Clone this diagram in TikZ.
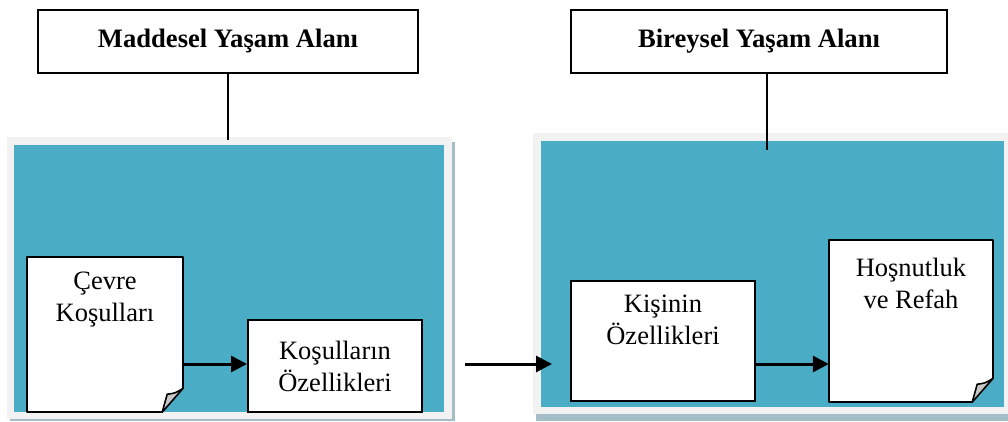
\documentclass[tikz,border=0pt]{standalone}
\usepackage{fontspec}
\setmainfont{Liberation Serif}
\usetikzlibrary{arrows.meta,calc}
\definecolor{panelblue}{HTML}{4BACC6}
\definecolor{framegray}{HTML}{F2F2F2}
\definecolor{shadowgray}{HTML}{A3BEC6}
\definecolor{foldgray}{HTML}{C8C8C8}
\tikzset{
  titlebox/.style={draw=black,line width=1.3pt,fill=white,minimum width=#1,minimum height=63pt,inner sep=0pt,font=\fontsize{26.6}{32}\selectfont\bfseries},
  plainbox/.style={draw=black,line width=2pt,fill=white,inner sep=0pt},
  notearea/.style={inner sep=0pt},
  bodytext/.style={align=center,inner sep=0pt,font=\fontsize{26.5}{32}\selectfont},
  flow/.style={line width=3pt,-{Triangle[length=16pt,width=16pt]}},
  stem/.style={line width=1.3pt}
}
\newcommand{\notepath}[1]{%
  \fill[white] (#1.north west) -- (#1.north east) -- ($(#1.south east)+(0,-24)$) -- ($(#1.south east)+(-22,0)$) -- (#1.south west) -- cycle;
  \draw[line width=2pt,line join=round] ($(#1.south east)+(-20,0)$) -- (#1.south west) -- (#1.north west) -- (#1.north east) -- ($(#1.south east)+(0,-24)$);
  \filldraw[fill=foldgray,draw=black,line width=1.6pt,line join=round] ($(#1.south east)+(-21,0)$) -- ($(#1.south east)+(-16,-18)$) .. controls ($(#1.south east)+(-8,-19)$) .. ($(#1.south east)+(0,-24)$) -- cycle;
}
\begin{document}
\begin{tikzpicture}[x=1pt,y=-1pt]
\useasboundingbox (0,0) rectangle (1008,421);
% left panel
\fill[shadowgray] (10,142) rectangle (455,421);
\fill[framegray] (7,137) rectangle (452,419);
\fill[panelblue] (14,145) rectangle (444,412);
% right panel
\fill[shadowgray] (536,138) rectangle (1011,421);
\fill[framegray] (533,133) rectangle (1008,414);
\fill[panelblue] (541,141) rectangle (1004,407);
% title boxes
\node[titlebox=380pt] (t1) at (228,41.5) {Maddesel Yaşam Alanı};
\node[titlebox=376pt] (t2) at (759,41.5) {Bireysel Yaşam Alanı};
\coordinate (s1) at (228,140);
\coordinate (t2b) at (767,73);
\coordinate (s2) at (767,150);
\draw[stem] (t1.south) -- (s1);
\draw[stem] (t2b) -- (s2);
% left contents
\node[notearea,minimum width=156pt,minimum height=155pt] (n1) at (105,334.5) {};
\notepath{n1}
\node[bodytext] (n1t) at ($(n1.north)+(0,43)$) {Çevre\\Koşulları};
\node[plainbox,minimum width=174pt,minimum height=92pt] (b2) at (335,366) {};
\node[bodytext] (b2t) at (b2) {Koşulların\\Özellikleri};
\coordinate (ly) at (0,364);
\draw[flow] (n1.east |- ly) -- (b2.west |- ly);
% middle arrow
\coordinate (m1) at (465,364);
\coordinate (m2) at (552,364);
\draw[flow] (m1) -- (m2);
% right contents
\node[plainbox,minimum width=184pt,minimum height=120pt] (k) at (663,341) {};
\node[bodytext] (kt) at ($(k.north)+(0,40)$) {Kişinin\\Özellikleri};
\node[notearea,minimum width=164pt,minimum height=162pt] (n2) at (911,321) {};
\notepath{n2}
\node[bodytext] (n2t) at ($(n2.north)+(0,44)$) {Hoşnutluk\\ve Refah};
\draw[flow] (k.east |- ly) -- (n2.west |- ly);
\end{tikzpicture}
\end{document}
